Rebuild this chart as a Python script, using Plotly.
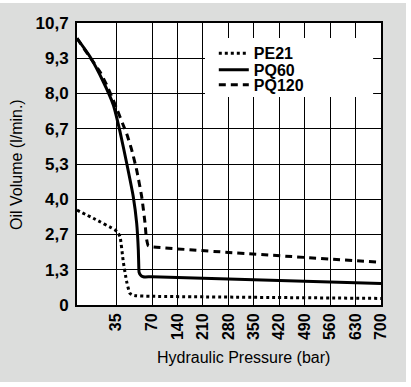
import numpy as np
import plotly.graph_objects as go

# ---- data (pressure in bar, oil volume in l/min) ----
pe21_p = [0, 14.6, 34.1, 36.5, 38.9, 42.1, 45.4, 48.6, 51.0, 55.0, 70, 700]
pe21_v = [3.60, 3.29, 2.85, 2.77, 2.59, 1.64, 0.88, 0.44, 0.38, 0.35, 0.33, 0.25]

pq60_p = [0, 11.7, 23.6, 32.6, 38.9, 45.4, 51.8, 55.1, 56.7, 57.2, 57.4, 58.8, 61.5, 70, 700]
pq60_v = [10.12, 9.42, 8.47, 7.59, 6.58, 5.38, 4.11, 3.11, 2.09, 1.39, 1.25, 1.14, 1.07, 1.07, 0.82]

pq120_p = [0, 10, 20.6, 26.6, 31.1, 35.7, 41.8, 45.4, 50.3, 55.1, 60.0, 63.2, 64.5, 66.4, 70, 700]
pq120_v = [10.12, 9.5, 8.85, 8.35, 7.92, 7.45, 6.85, 6.5, 5.88, 5.12, 4.11, 3.11, 2.55, 2.25, 2.21, 1.62]

x_tick_values = [35, 70, 140, 210, 280, 350, 420, 490, 560, 630, 700]
x_tick_labels = ["35", "70", "140", "210", "280", "350", "420", "490", "560", "630", "700"]
y_tick_values = [0, 1.34, 2.68, 4.01, 5.35, 6.69, 8.03, 9.36, 10.7]
y_tick_labels = ["0", "1,3", "2,7", "4,0", "5,3", "6,7", "8,0", "9,3", "10,7"]

# non-uniform pressure axis of the original (piecewise linear scale)
SCALE_P = [0, 35, 70, 700]
SCALE_X = [0, 39, 75, 304]


def xs(p):
    return np.interp(np.asarray(p, dtype=float), SCALE_P, SCALE_X)


FONT = "Liberation Sans Narrow, Arial Narrow, Liberation Sans, Arial, sans-serif"
LEG_FONT = dict(family="Liberation Sans, Arial, sans-serif", size=16, weight="bold")
GRAY = "#dcdddc"

fig = go.Figure()
fig.add_trace(go.Scatter(x=xs(pe21_p), y=pe21_v, mode="lines", name="PE21", legend="legend",
                         line=dict(color="black", width=3, dash="3px,3px", shape="spline", smoothing=0.5)))
fig.add_trace(go.Scatter(x=xs(pq60_p), y=pq60_v, mode="lines", name="PQ60", legend="legend2",
                         line=dict(color="black", width=3, shape="spline", smoothing=0.5)))
fig.add_trace(go.Scatter(x=xs(pq120_p), y=pq120_v, mode="lines", name="PQ120", legend="legend3",
                         line=dict(color="black", width=3, dash="7px,5px", shape="spline", smoothing=0.5)))

leg_common = dict(x=0.45, xanchor="left", yanchor="top", bgcolor="rgba(0,0,0,0)",
                  borderwidth=0, font=LEG_FONT)

fig.update_layout(
    width=411, height=387,
    margin=dict(l=77, r=30, t=23, b=82),
    paper_bgcolor=GRAY, plot_bgcolor="white",
    font=dict(family=FONT, color="black"),
    showlegend=True,
    legend=dict(y=0.953, **leg_common),
    legend2=dict(y=0.894, **leg_common),
    legend3=dict(y=0.841, **leg_common),
    shapes=[
        dict(type="rect", xref="paper", yref="paper", x0=0.421, x1=0.974, y0=0.738, y1=0.947,
             fillcolor="white", line=dict(width=0), layer="above"),
        dict(type="rect", xref="paper", yref="paper", x0=-0.3, x1=1.2, y0=(305 - 3) / 282, y1=1.2,
             fillcolor="white", line=dict(width=0), layer="above"),
        dict(type="rect", xref="paper", yref="paper", x0=(406 - 77) / 304, x1=1.2, y0=-0.4, y1=1.2,
             fillcolor="white", line=dict(width=0), layer="above"),
        dict(type="rect", xref="paper", yref="paper", x0=-0.3, x1=1.2, y0=-0.4, y1=(305 - 382) / 282,
             fillcolor="white", line=dict(width=0), layer="above"),
    ],
    annotations=[
        dict(text="Hydraulic Pressure (bar)", xref="paper", yref="paper",
             x=(243 - 77) / 304, y=(305 - 357) / 282, xanchor="center", yanchor="middle",
             showarrow=False, font=dict(family=FONT, size=16)),
        dict(text="Oil Volume (l/min.)", xref="paper", yref="paper", textangle=-90,
             x=(16 - 77) / 304, y=0.5, xanchor="center", yanchor="middle",
             showarrow=False, font=dict(family=FONT, size=16)),
    ],
)

fig.update_xaxes(
    range=[0, 304], tickmode="array", tickvals=xs(x_tick_values), ticktext=x_tick_labels,
    tickangle=-90, tickfont=dict(family=FONT, size=16, weight="bold"),
    showgrid=True, gridcolor="black", gridwidth=1, zeroline=False,
    showline=True, linecolor="black", linewidth=2, mirror=True,
    ticks="", automargin=False,
)
fig.update_yaxes(
    range=[0, 10.7], tickmode="array", tickvals=y_tick_values, ticktext=y_tick_labels,
    tickfont=dict(family=FONT, size=17, weight="bold"),
    showgrid=True, gridcolor="black", gridwidth=1, zeroline=False,
    showline=True, linecolor="black", linewidth=2, mirror=True,
    ticks="outside", ticklen=3, tickcolor="rgba(0,0,0,0)", automargin=False,
)

fig.write_html("out.html", config={"displayModeBar": False},
               post_script="document.body.style.margin='0';document.body.style.padding='0';")
